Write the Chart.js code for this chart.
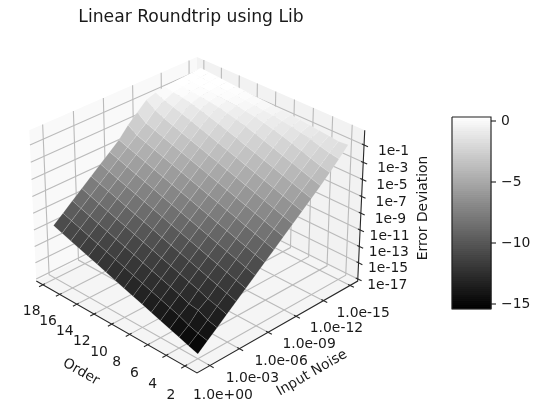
<!DOCTYPE html>
<html>
<head>
<meta charset="utf-8">
<script src="https://cdn.jsdelivr.net/npm/chart.js@4"></script>
<style>
  html, body { margin: 0; padding: 0; background: #fff; }
  canvas { display: block; }
</style>
</head>
<body>
<canvas id="chart" width="540" height="415"></canvas>
<script>
// values
const orders = [2, 3, 4, 5, 6, 7, 8, 9, 10, 11, 12, 13, 14, 15, 16, 17, 18];
const noiseExp = [0, -0.97, -1.94, -2.91, -3.88, -4.85, -5.82, -6.79, -7.76, -8.73, -9.7, -10.67, -11.64, -12.61, -13.58, -14.55, -15.52];
const surface = [
  [-15.3, -14.37, -13.44, -12.51, -11.58, -10.65, -9.72, -8.79, -7.86, -6.93, -6, -5.07, -4.14, -3.2, -2.2, -1.15, -0.02],
  [-14.93, -14.1, -13.15, -12.14, -11.21, -10.28, -9.35, -8.42, -7.49, -6.56, -5.63, -4.7, -3.77, -2.84, -1.92, -0.95, -0.12],
  [-14.56, -13.75, -12.6, -11.85, -10.84, -9.91, -8.98, -8.05, -7.12, -6.19, -5.26, -4.33, -3.4, -2.47, -1.55, -0.67, 0.02],
  [-14.19, -13.26, -12.42, -11.4, -10.47, -9.54, -8.61, -7.68, -6.75, -5.82, -4.89, -3.96, -3.03, -2.1, -1.19, -0.36, 0.14],
  [-13.82, -12.89, -11.96, -11.03, -10.1, -9.17, -8.24, -7.31, -6.38, -5.45, -4.52, -3.59, -2.66, -1.74, -0.83, -0.09, 0.28],
  [-13.45, -12.52, -11.59, -10.66, -9.73, -8.8, -7.87, -6.94, -6.01, -5.08, -4.15, -3.22, -2.29, -1.37, -0.5, 0.13, 0.39],
  [-13.08, -12.15, -11.22, -10.29, -9.36, -8.43, -7.5, -6.57, -5.64, -4.71, -3.78, -2.85, -1.93, -1.01, -0.19, 0.3, 0.49],
  [-12.71, -11.78, -10.85, -9.92, -8.99, -8.06, -7.13, -6.2, -5.27, -4.34, -3.41, -2.48, -1.57, -0.66, 0.08, 0.44, 0.58],
  [-12.34, -11.41, -10.48, -9.55, -8.62, -7.69, -6.76, -5.83, -4.9, -3.97, -3.04, -2.12, -1.19, -0.32, 0.3, 0.56, 0.66],
  [-11.97, -11.04, -10.11, -9.18, -8.25, -7.32, -6.39, -5.46, -4.53, -3.6, -2.67, -1.75, -0.83, -0.01, 0.47, 0.65, 0.74],
  [-11.6, -10.67, -9.74, -8.81, -7.88, -6.95, -6.02, -5.09, -4.16, -3.23, -2.31, -1.38, -0.48, 0.25, 0.6, 0.73, 0.82],
  [-11.23, -10.3, -9.37, -8.44, -7.51, -6.58, -5.65, -4.72, -3.79, -2.86, -1.94, -1.02, -0.15, 0.46, 0.71, 0.81, 0.9],
  [-10.86, -9.93, -9, -8.07, -7.14, -6.21, -5.28, -4.35, -3.42, -2.5, -1.57, -0.65, 0.16, 0.63, 0.8, 0.895, 0.98],
  [-10.49, -9.56, -8.63, -7.7, -6.77, -5.84, -4.91, -3.98, -3.05, -2.13, -1.2, -0.31, 0.43, 0.76, 0.89, 0.975, 1.06],
  [-10.12, -9.19, -8.26, -7.33, -6.4, -5.47, -4.54, -3.61, -2.69, -1.76, -0.84, 0.03, 0.63, 0.86, 0.97, 1.05, 1.14],
  [-9.75, -8.82, -7.89, -6.96, -6.03, -5.1, -4.17, -3.24, -2.32, -1.4, -0.35, 0.33, 0.79, 0.95, 1.05, 1.13, 1.22],
  [-9.38, -8.45, -7.52, -6.59, -5.66, -4.73, -3.8, -2.87, -1.6, -0.6, 0.4, 0.78, 0.96, 1.04, 1.13, 1.21, 1.3]
];
const orderTicks = [2, 4, 6, 8, 10, 12, 14, 16, 18];
const noiseTicks = [0, -3, -6, -9, -12, -15];
const noiseLabels = ["1.0e+00", "1.0e-03", "1.0e-06", "1.0e-09", "1.0e-12", "1.0e-15"];
const zTicks = [-15.6, -13.6, -11.6, -9.6, -7.6, -5.6, -3.6, -1.6, 0.4];
const zLabels = ["1e-17", "1e-15", "1e-13", "1e-11", "1e-9", "1e-7", "1e-5", "1e-3", "1e-1"];
const barTicks = [0, -5, -10, -15];
const barLabels = ["0", "\u22125", "\u221210", "\u221215"];
// gray level of a tile against its height, as seen in the picture
const shadeZ = [-15.3, -9.4, -1, 0.4, 0.7, 1];
const shadeG = [0, 0.28, 0.84, 0.94, 0.98, 1];

// axis value -> 0..1 inside the 3d box
const uOf = o => 0.07 + (o - 2) * 0.0554;
const vOf = n => 0.075 - n * 0.0583;
const wOf = z => 0.0146 + (z + 15.6) * 0.0557;

// same camera as a default mplot3d view: elev 30, box 4:4:3, dist 10
function project(u, v, w) {
  const A = (u - 0.5) * 1.143, B = (v - 0.5) * 1.143, Z = (w - 0.5) * 0.857;
  const sx = (B - A) * Math.SQRT1_2;
  const sy = 0.354 * (A + B) + 0.866 * Z;
  const d = -0.612 * (A + B) + 0.5 * Z;
  const s = 2031 / (10 - d);
  return { x: 197 + sx * s, y: 207.3 - sy * s };
}

function shade(z) {
  if (z <= shadeZ[0]) return 0;
  for (let k = 1; k < shadeZ.length; k++) {
    if (z <= shadeZ[k]) {
      return shadeG[k - 1] + (shadeG[k] - shadeG[k - 1]) * (z - shadeZ[k - 1]) / (shadeZ[k] - shadeZ[k - 1]);
    }
  }
  return 1;
}

const layers = []; // in paint order, reversed at the end because Chart.js paints index 0 last
function shape(points, fillColor, line, lineWidth) {
  layers.push({
    data: points.concat([points[0]]), showLine: true, pointRadius: 0, tension: 0,
    fill: "shape", backgroundColor: fillColor,
    borderColor: line || fillColor, borderWidth: lineWidth === undefined ? 0 : lineWidth,
    borderJoinStyle: "round", clip: false
  });
}
function stroke(points, color, width) {
  layers.push({
    data: points, showLine: true, pointRadius: 0, tension: 0, fill: false,
    borderColor: color, borderWidth: width, borderCapStyle: "butt", clip: false
  });
}

// panes
shape([project(1, 0, 0), project(1, 1, 0), project(1, 1, 1), project(1, 0, 1)], "rgb(249,249,249)");
shape([project(1, 1, 0), project(0, 1, 0), project(0, 1, 1), project(1, 1, 1)], "rgb(242,242,242)");
shape([project(0, 0, 0), project(0, 1, 0), project(1, 1, 0), project(1, 0, 0)], "rgb(245,245,245)");

// grid
const gridColor = "rgb(186,186,186)";
orderTicks.forEach(o => {
  const u = uOf(o);
  stroke([project(u, 0, 0), project(u, 1, 0), project(u, 1, 1)], gridColor, 1.1);
});
noiseTicks.forEach(n => {
  const v = vOf(n);
  stroke([project(0, v, 0), project(1, v, 0), project(1, v, 1)], gridColor, 1.1);
});
zTicks.forEach(z => {
  const w = wOf(z);
  stroke([project(1, 0, w), project(1, 1, w), project(0, 1, w)], gridColor, 1.1);
});

// axis lines and tick marks
const axisColor = "rgb(40,40,40)";
stroke([project(1, 0, 0), project(0, 0, 0), project(0, 1, 0), project(0, 1, 1)], axisColor, 1.1);
orderTicks.forEach(o => stroke([project(uOf(o), 0.012, 0), project(uOf(o), -0.022, 0)], axisColor, 1.1));
noiseTicks.forEach(n => stroke([project(0.012, vOf(n), 0), project(-0.022, vOf(n), 0)], axisColor, 1.1));
zTicks.forEach(z => stroke([project(0.012, 1, wOf(z)), project(-0.022, 1, wOf(z))], axisColor, 1.1));

// surface, far cells first
for (let i = orders.length - 2; i >= 0; i--) {
  for (let j = noiseExp.length - 2; j >= 0; j--) {
    const corners = [[i, j], [i + 1, j], [i + 1, j + 1], [i, j + 1]];
    const mean = corners.reduce((s, c) => s + surface[c[0]][c[1]], 0) / 4;
    const g = Math.round(255 * shade(mean));
    const pts = corners.map(c => project(uOf(orders[c[0]]), vOf(noiseExp[c[1]]), wOf(surface[c[0]][c[1]])));
    shape(pts, "rgb(" + g + "," + g + "," + g + ")", "rgba(255,255,255,0.22)", 0.6);
  }
}

// colorbar
const barY = z => 121 + (0 - z) * 12.2;
const barTop = 0.33, barBottom = -15.4;
for (let k = 0; k < 96; k++) {
  const z0 = barBottom + (barTop - barBottom) * k / 96;
  const z1 = barBottom + (barTop - barBottom) * (k + 1) / 96;
  const g = Math.round(255 * (k + 0.5) / 96);
  const c = "rgb(" + g + "," + g + "," + g + ")";
  shape([{ x: 452, y: barY(z1) }, { x: 491, y: barY(z1) }, { x: 491, y: barY(z0) }, { x: 452, y: barY(z0) }], c, c, 0.4);
}
layers.push({
  data: [{ x: 452, y: barY(barTop) }, { x: 491, y: barY(barTop) }, { x: 491, y: barY(barBottom) }, { x: 452, y: barY(barBottom) }, { x: 452, y: barY(barTop) }],
  showLine: true, pointRadius: 0, fill: false, borderColor: "rgb(30,30,30)", borderWidth: 1.1, clip: false
});
barTicks.forEach(z => stroke([{ x: 491, y: barY(z) }, { x: 496, y: barY(z) }], "rgb(30,30,30)", 1.1));

// text
const labelFont = '13.9px "DejaVu Sans"';
const texts = [{ s: "Linear Roundtrip using Lib", x: 191, y: 17.5, font: '17.2px "DejaVu Sans"' }];
orderTicks.forEach((o, n) => {
  const p = project(uOf(o), 0, 0);
  texts.push({ s: String(o), x: p.x - 14 + n * 0.35, y: p.y + 29 - n * 0.25 });
});
noiseTicks.forEach((t, n) => {
  const p = project(0, vOf(t), 0);
  texts.push({ s: noiseLabels[n], x: p.x + 13, y: p.y + 30 - n * 0.5 });
});
zTicks.forEach((z, n) => {
  const p = project(0, 1, wOf(z));
  texts.push({ s: zLabels[n], x: p.x + 29.5, y: p.y + 6 });
});
barTicks.forEach((z, n) => texts.push({ s: barLabels[n], x: 501, y: barY(z), align: "left" }));
texts.push({ s: "Order", x: 81, y: 372, angle: 30 });
texts.push({ s: "Input Noise", x: 312, y: 373, angle: -30 });
texts.push({ s: "Error Deviation", x: 423, y: 208, angle: -90 });

const textPlugin = {
  id: "plotText",
  afterDraw(chart) {
    const ctx = chart.ctx;
    texts.forEach(t => {
      ctx.save();
      ctx.translate(chart.scales.x.getPixelForValue(t.x), chart.scales.y.getPixelForValue(t.y));
      ctx.rotate((t.angle || 0) * Math.PI / 180);
      ctx.font = t.font || labelFont;
      ctx.fillStyle = "rgb(25,25,25)";
      ctx.textAlign = t.align || "center";
      ctx.textBaseline = "middle";
      ctx.fillText(t.s, 0, 0);
      ctx.restore();
    });
  }
};

new Chart(document.getElementById("chart"), {
  type: "scatter",
  data: { datasets: layers.reverse() },
  options: {
    responsive: false,
    animation: false,
    layout: { padding: 0 },
    plugins: { legend: { display: false }, tooltip: { enabled: false } },
    scales: {
      x: { type: "linear", min: 0, max: 540, display: false },
      y: { type: "linear", min: 0, max: 415, reverse: true, display: false }
    }
  },
  plugins: [textPlugin]
});
</script>
</body>
</html>
